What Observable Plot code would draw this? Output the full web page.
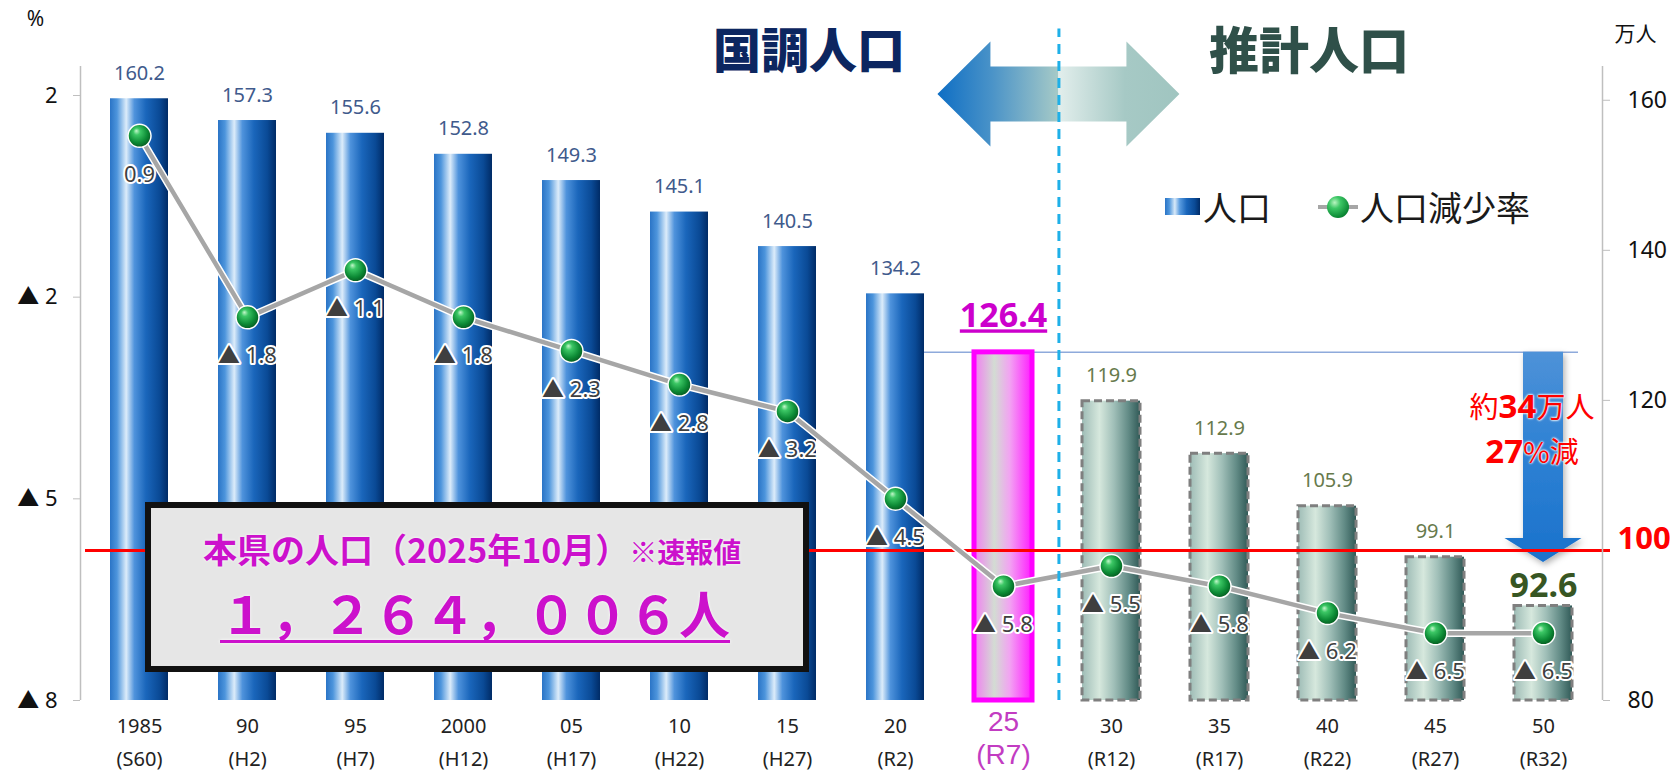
<!DOCTYPE html>
<html><head><meta charset="utf-8">
<script src="https://cdn.jsdelivr.net/npm/d3@7"></script>
<script src="https://cdn.jsdelivr.net/npm/@observablehq/plot@0.6"></script>
<style>
body{margin:0;background:#fff;}
#wrap{position:relative;width:1676px;height:771px;overflow:hidden;background:#fff;font-family:"Noto Sans","Noto Sans CJK JP",sans-serif;}
#wrap svg.layer{position:absolute;left:0;top:0;}
#box{position:absolute;left:145px;top:502px;width:652px;height:158px;border:6px solid #111;background:#e6e6e6;}
#box .l1{position:absolute;left:52px;top:23px;font-family:"Noto Sans CJK JP",sans-serif;font-size:34px;line-height:36px;font-weight:700;color:#cc11cc;white-space:nowrap;text-shadow:0 0 3px #fff;}
#box .l1 .small{font-size:28px;}
#box .l2{position:absolute;left:69px;top:78px;font-family:"Noto Sans CJK JP",sans-serif;font-size:51px;line-height:52px;font-weight:700;color:#cc11cc;white-space:nowrap;text-decoration:underline;text-decoration-thickness:3px;text-underline-offset:6px;text-shadow:0 0 3px #fff;}
.lg{position:absolute;}
#lgBar{left:1165px;top:198px;width:35px;height:17px;background:linear-gradient(90deg,#2a74c6 0%,#4d95dc 12%,#d8e9f8 28%,#5a9ce0 42%,#1a66bb 62%,#0a4a96 85%,#002b66 100%);}
.lgT{font-family:"Noto Sans CJK JP",sans-serif;font-size:34px;line-height:34px;color:#1a1a1a;white-space:nowrap;top:190px;}
#lgLine{left:1318px;top:205px;width:40px;height:4px;background:#a6a6a6;}
#lgBall{left:1327px;top:196px;width:22px;height:22px;border-radius:50%;background:radial-gradient(circle at 35% 30%,#b8f5c0 0%,#3cc765 28%,#0c8a35 70%,#05581f 100%);}
.red{position:absolute;left:1432px;width:200px;height:44px;text-align:center;color:#ff0000;font-family:"Noto Sans CJK JP",sans-serif;font-size:29px;line-height:44px;white-space:nowrap;text-shadow:0 0 2px #fff,0 0 2px #fff,0 0 3px #fff;}
.red b{font-family:"Noto Sans",sans-serif;font-size:33px;font-weight:700;}
</style></head><body>
<svg width="0" height="0" style="position:absolute">
<defs>
<linearGradient id="gBlue" x1="0" x2="1" y1="0" y2="0">
<stop offset="0" stop-color="#2a74c6"/><stop offset="0.12" stop-color="#4d95dc"/><stop offset="0.28" stop-color="#dcecfa"/><stop offset="0.42" stop-color="#4f93dc"/><stop offset="0.62" stop-color="#1a66bb"/><stop offset="0.85" stop-color="#0a4a96"/><stop offset="1" stop-color="#002b66"/>
</linearGradient>
<linearGradient id="gTeal" x1="0" x2="1" y1="0" y2="0">
<stop offset="0" stop-color="#9ebcb6"/><stop offset="0.3" stop-color="#d6e8dd"/><stop offset="0.55" stop-color="#a0bfb8"/><stop offset="0.8" stop-color="#628b86"/><stop offset="1" stop-color="#315a57"/>
</linearGradient>
<linearGradient id="gPink" x1="0" x2="1" y1="0" y2="0">
<stop offset="0" stop-color="#f27cf2"/><stop offset="0.35" stop-color="#d3dcd3"/><stop offset="0.62" stop-color="#f2a2f2"/><stop offset="1" stop-color="#ff1cff"/>
</linearGradient>
<radialGradient id="gBall" cx="0.45" cy="0.42" r="0.6" fx="0.36" fy="0.28">
<stop offset="0" stop-color="#c4f7cb"/><stop offset="0.25" stop-color="#3cc765"/><stop offset="0.7" stop-color="#0c8a35"/><stop offset="1" stop-color="#05581f"/>
</radialGradient>
<linearGradient id="gDrop" x1="0" x2="0" y1="0" y2="1">
<stop offset="0" stop-color="#4e92d8"/><stop offset="0.45" stop-color="#2f82d4"/><stop offset="1" stop-color="#1a72cc"/>
</linearGradient>
<linearGradient id="gArrowL" x1="0" x2="1" y1="0" y2="0">
<stop offset="0" stop-color="#0e6ec4"/><stop offset="0.45" stop-color="#4a93c8"/><stop offset="1" stop-color="#a6cac7"/>
</linearGradient>
<linearGradient id="gArrowR" x1="0" x2="1" y1="0" y2="0">
<stop offset="0" stop-color="#e2eeec"/><stop offset="0.55" stop-color="#a6c9c5"/><stop offset="1" stop-color="#a0c5c0"/>
</linearGradient>
<filter id="shadow" x="-30%" y="-10%" width="160%" height="130%"><feDropShadow dx="2" dy="3" stdDeviation="3" flood-color="#000" flood-opacity="0.3"/></filter>
</defs></svg>
<div id="wrap"></div>
<script>
// ---- data ----
const categories = ["1985","90","95","2000","05","10","15","20","25","30","35","40","45","50"];
const eras = ["(S60)","(H2)","(H7)","(H12)","(H17)","(H22)","(H27)","(R2)","(R7)","(R12)","(R17)","(R22)","(R27)","(R32)"];
const population = [160.2,157.3,155.6,152.8,149.3,145.1,140.5,134.2,126.4,119.9,112.9,105.9,99.1,92.6]; // 万人
const declineRate = [0.9,-1.8,-1.1,-1.8,-2.3,-2.8,-3.2,-4.5,-5.8,-5.5,-5.8,-6.2,-6.5,-6.5]; // %
const kinds = ["census","census","census","census","census","census","census","census","latest","projection","projection","projection","projection","projection"];
const popTicks = [80,120,140,160];
const popDomain = [80,164.5];
const rateTicks = [1.5,-1.5,-4.5,-7.5];
const rateDomain = [-7.5,1.5];
const threshold = 100;
const periodTitles = ["国調人口","推計人口"];

// ---- build ----
const rows = categories.map((c,i)=>({cat:c, era:eras[i], pop:population[i], rate:declineRate[i], kind:kinds[i], i}));
const lastIdx = rows.length-1;
const latestIdx = kinds.indexOf("latest");
const boundary = kinds.indexOf("projection") - 0.5;
const census = rows.filter(d=>d.kind==="census");
const latest = rows.filter(d=>d.kind==="latest");
const proj = rows.filter(d=>d.kind==="projection");
const projMid = proj.filter(d=>d.i!==lastIdx);
const projLast = proj.filter(d=>d.i===lastIdx);
const normalX = rows.filter(d=>d.kind!=="latest");

const W=1676, H=771;
const FONT = '"Noto Sans","Noto Sans CJK JP",sans-serif';
const common = {width:W, height:H, marginLeft:80, marginRight:74,
  style:{background:"transparent", overflow:"visible", fontFamily:FONT}};
const xBand = {domain:categories, paddingInner:0.46, paddingOuter:0.23, axis:null};

const roundAway = v => Math.sign(v)*Math.round(Math.abs(v));
const fmtTick = v => { const r = roundAway(v); return r < 0 ? "▲ " + (-r) : String(r); };
const fmtRate = v => v < 0 ? "▲ " + (-v).toFixed(1) : v.toFixed(1);

function dropArrow(index, {x, y}) {
  const c = x(categories[lastIdx]) + x.bandwidth()/2;
  const top = y(population[latestIdx]);
  const base = y(threshold);
  const tip = base + 12, head = base - 12;
  return d3.create("svg:path")
    .attr("d", `M${c-20},${top}H${c+20}V${head}H${c+38.5}L${c},${tip}L${c-38.5},${head}H${c-20}Z`)
    .attr("fill","url(#gDrop)").attr("filter","url(#shadow)").node();
}

const bars = Plot.plot({
  ...common, marginTop:66, marginBottom:71,
  x: xBand,
  y: {domain:popDomain, axis:null},
  marks: [
    Plot.ruleY(latest, {y:"pop", x1:()=>categories[latestIdx-1], x2:()=>categories[lastIdx], stroke:"#8eaadb", strokeWidth:1.5, insetRight:-6}),
    Plot.axisY({anchor:"right", ticks:popTicks, tickSize:7, tickPadding:18, fontSize:23, fill:"#111", stroke:"#bfbfbf", label:null}),
    Plot.barY(census, {x:"cat", y1:popDomain[0], y2:"pop", fill:"url(#gBlue)"}),
    Plot.barY(latest, {x:"cat", y1:popDomain[0], y2:"pop", fill:"url(#gPink)", stroke:"#ff00ff", strokeWidth:5}),
    Plot.barY(proj, {x:"cat", y1:popDomain[0], y2:"pop", fill:"url(#gTeal)", stroke:"#7f7f7f", strokeWidth:3, strokeDasharray:"8,4"}),
    dropArrow,
    Plot.ruleY([threshold], {stroke:"#ff0000", strokeWidth:3, insetLeft:5, insetRight:-8}),
    Plot.text([threshold], {y:d=>d, text:d=>String(d), frameAnchor:"right", textAnchor:"start", dx:15, dy:-11, lineAnchor:"middle", fill:"#ff0000", fontWeight:"bold", fontSize:31}),
    Plot.text(census, {x:"cat", y:"pop", text:d=>d.pop.toFixed(1), dy:-19, lineAnchor:"bottom", fill:"#405a8c", fontSize:20}),
    Plot.text(latest, {x:"cat", y:"pop", text:d=>d.pop.toFixed(1), dy:-25, lineAnchor:"bottom", fill:"#cc00cc", fontSize:34, fontWeight:"bold"}),
    Plot.text(projMid, {x:"cat", y:"pop", text:d=>d.pop.toFixed(1), dy:-19, lineAnchor:"bottom", fill:"#677a4c", fontSize:20}),
    Plot.text(projLast, {x:"cat", y:"pop", text:d=>d.pop.toFixed(1), dy:-9, lineAnchor:"bottom", fill:"#375623", fontSize:34, fontWeight:"bold"}),
    Plot.text(normalX, {x:"cat", text:"cat", frameAnchor:"bottom", lineAnchor:"middle", dy:26, fontSize:20, fill:"#222"}),
    Plot.text(normalX, {x:"cat", text:"era", frameAnchor:"bottom", lineAnchor:"middle", dy:59, fontSize:20, fill:"#222"}),
    Plot.text(latest, {x:"cat", text:"cat", frameAnchor:"bottom", lineAnchor:"middle", dy:22, fontSize:28, fill:"#c23cc2", fontFamily:'"Liberation Sans",sans-serif'}),
    Plot.text(latest, {x:"cat", text:"era", frameAnchor:"bottom", lineAnchor:"middle", dy:55, fontSize:28, fill:"#c23cc2", fontFamily:'"Liberation Sans",sans-serif'}),
    Plot.text(["万人"], {frameAnchor:"top-right", dx:33, dy:-32, textAnchor:"middle", lineAnchor:"middle", fontSize:21, fill:"#111"})
  ]
});
bars.querySelectorAll("text").forEach(t=>{ if (t.textContent === population[latestIdx].toFixed(1)) t.style.textDecoration = "underline"; });

const rate = Plot.plot({
  ...common, marginTop:95, marginBottom:71,
  x: xBand,
  y: {domain:rateDomain, axis:null},
  marks: [
    Plot.axisY({anchor:"left", ticks:rateTicks, tickFormat:fmtTick, tickSize:7, tickPadding:16, fontSize:22, fill:"#111", stroke:"#bfbfbf", label:null}),
    Plot.text(["%"], {frameAnchor:"top-left", dx:-45, dy:-76, textAnchor:"middle", lineAnchor:"middle", fontSize:21, fill:"#111"}),
    Plot.line(rows, {x:"cat", y:"rate", stroke:"#ffffff", strokeWidth:7.5}),
    Plot.line(rows, {x:"cat", y:"rate", stroke:"#a6a6a6", strokeWidth:4.5}),
    Plot.dot(rows, {x:"cat", y:"rate", r:11.5, fill:"url(#gBall)", stroke:"#ffffff", strokeWidth:1.5}),
    Plot.text(rows, {x:"cat", y:"rate", text:d=>fmtRate(d.rate), dy:39, lineAnchor:"middle", fill:"#3f3f3f", stroke:"#ffffff", strokeWidth:4, paintOrder:"stroke", fontSize:22})
  ]
});

function doubleArrow(index, {x}, values, dims) {
  const cx = x(boundary), cy = dims.marginTop + 28;
  const L=121, hl=53, hh=52.5, sh=27.5;
  const g = d3.create("svg:g");
  g.append("path").attr("d", `M${cx-L},${cy}L${cx-L+hl},${cy-hh}V${cy-sh}H${cx}V${cy+sh}H${cx-L+hl}V${cy+hh}Z`).attr("fill","url(#gArrowL)");
  g.append("path").attr("d", `M${cx+L},${cy}L${cx+L-hl},${cy-hh}V${cy-sh}H${cx}V${cy+sh}H${cx+L-hl}V${cy+hh}Z`).attr("fill","url(#gArrowR)");
  return g.node();
}

const annot = Plot.plot({
  ...common, marginTop:66, marginBottom:71,
  x: {domain:[-0.5, categories.length-0.5], axis:null},
  y: {domain:popDomain, axis:null},
  marks: [
    Plot.ruleX([-0.5, categories.length-0.5], {stroke:"#bfbfbf", strokeWidth:1.5}),
    doubleArrow,
    Plot.ruleX([boundary], {y1:popDomain[0], y2:169.5, stroke:"#1fb0e8", strokeWidth:3, strokeDasharray:"10,7"}),
    Plot.text([periodTitles[0]], {x:()=>boundary, frameAnchor:"top", dx:-154, dy:-14, textAnchor:"end", lineAnchor:"middle", fontSize:48, fontWeight:900, fill:"#0c2660", fontFamily:'"Noto Sans CJK JP",sans-serif'}),
    Plot.text([periodTitles[1]], {x:()=>boundary, frameAnchor:"top", dx:150, dy:-14, textAnchor:"start", lineAnchor:"middle", fontSize:50, fontWeight:900, fill:"#2f5049", fontFamily:'"Noto Sans CJK JP",sans-serif'})
  ]
});

const wrap = document.getElementById("wrap");
for (const s of [bars, rate, annot]) { s.classList.add("layer"); wrap.appendChild(s); }

wrap.insertAdjacentHTML("beforeend", `
<div id="box"><div class="l1">本県の人口（2025年10月）<span class="small">※速報値</span></div><div class="l2">１，２６４，００６人</div></div>
<div class="lg" id="lgBar"></div><div class="lg lgT" style="left:1203px">人口</div>
<div class="lg" id="lgLine"></div><div class="lg" id="lgBall"></div><div class="lg lgT" style="left:1360px">人口減少率</div>
<div class="red" style="top:383px">約<b>34</b>万人</div>
<div class="red" style="top:428px"><b>27</b>%減</div>
`);
</script>
</body></html>
